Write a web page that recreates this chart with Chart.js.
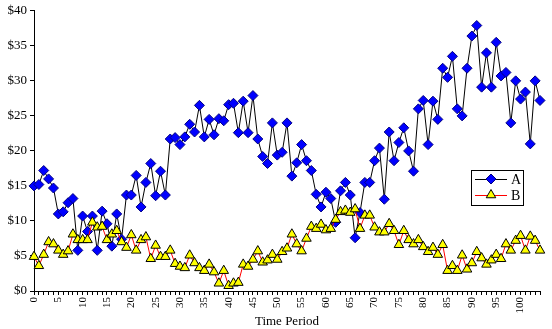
<!DOCTYPE html>
<html>
    <head>
        <title> Time Period </title>
        <script src = "https://cdn.jsdelivr.net/npm/chart.js"> </script>
        <style>
            body { margin: 0; background: #fff; }
        </style>
    </head>

    <body onload = "createChart()">

            <div>
                <canvas id="myChart" width="552" height="329"></canvas>
            </div>

            <script>
                // time periods 0..104
                const periods = Array.from({length: 105}, (_, i) => i);

                const seriesA = [
                    15.0, 15.2, 17.2, 16.0, 14.7, 11.0, 11.3, 12.6, 13.2, 5.8,
                    10.7, 8.5, 10.7, 5.8, 11.4, 9.6, 6.4, 11.0, 7.4, 13.7,
                    13.7, 16.5, 12.0, 15.5, 18.2, 13.6, 17.1, 13.7, 21.7, 21.9,
                    20.9, 22.0, 23.8, 22.7, 26.5, 22.0, 24.5, 22.3, 24.6, 24.3,
                    26.6, 26.8, 22.6, 27.1, 22.6, 27.9, 21.7, 19.2, 18.2, 24.0,
                    19.4, 19.8, 24.0, 16.4, 18.3, 20.9, 18.6, 17.2, 13.8, 12.0,
                    14.1, 13.2, 9.8, 14.3, 15.5, 13.7, 7.6, 11.2, 15.5, 15.5,
                    18.6, 20.4, 13.1, 22.7, 18.6, 21.2, 23.3, 20.0, 17.1, 26.0,
                    27.2, 20.9, 27.1, 24.5, 31.8, 30.5, 33.5, 26.0, 25.0, 31.8,
                    36.4, 37.9, 29.1, 34.0, 29.1, 35.5, 30.7, 31.2, 24.0, 30.0,
                    27.4, 28.4, 21.0, 30.0, 27.2
                ];

                const seriesB = [
                    4.9, 3.6, 5.2, 7.0, 6.7, 5.8, 5.2, 5.7, 8.1, 7.3,
                    7.3, 7.3, 9.8, 9.1, 9.2, 7.3, 8.1, 8.6, 7.0, 6.2,
                    8.0, 5.8, 7.3, 7.7, 4.6, 6.5, 4.9, 4.9, 5.8, 3.9,
                    3.5, 3.3, 5.1, 4.0, 3.3, 2.9, 3.8, 2.7, 1.1, 2.9,
                    0.75, 1.1, 1.2, 3.8, 3.5, 4.5, 5.7, 4.1, 4.4, 5.2,
                    4.5, 5.6, 6.1, 8.1, 6.7, 5.7, 7.5, 9.2, 8.9, 9.5,
                    8.7, 8.9, 10.2, 11.3, 11.5, 11.2, 11.7, 8.9, 10.8, 10.8,
                    9.1, 8.4, 8.4, 9.6, 8.6, 6.6, 8.6, 7.3, 6.7, 7.3,
                    6.3, 5.6, 6.2, 5.2, 6.6, 2.9, 3.6, 2.9, 5.1, 3.1,
                    4.0, 5.6, 4.7, 3.8, 4.4, 5.2, 4.6, 6.7, 5.8, 7.2,
                    7.9, 5.8, 7.8, 7.2, 5.8
                ];

                const seriesNames = ['A', 'B'];
                const yTicks = [0, 5, 10, 15, 20, 25, 30, 35, 40];

                const serif = 'Liberation Serif';

                // little boxed legend inside the plot, like the original
                const boxLegend = {
                    id: 'boxLegend',
                    afterDraw(chart) {
                        const ctx = chart.ctx;
                        const x0 = 471, y0 = 170, w = 52, h = 35;
                        ctx.save();
                        ctx.fillStyle = '#fff';
                        ctx.fillRect(x0, y0, w, h);
                        ctx.strokeStyle = '#000';
                        ctx.lineWidth = 1;
                        ctx.strokeRect(x0 + 0.5, y0 + 0.5, w, h);

                        chart.data.datasets.forEach((ds, k) => {
                            const y = y0 + 9 + k * 16;
                            ctx.strokeStyle = ds.borderColor;
                            ctx.lineWidth = 1;
                            ctx.beginPath();
                            ctx.moveTo(x0 + 4, y + 0.5);
                            ctx.lineTo(x0 + 36, y + 0.5);
                            ctx.stroke();

                            const cx = x0 + 20, r = ds.pointRadius;
                            ctx.beginPath();
                            if (ds.pointStyle === 'rectRot') {
                                ctx.moveTo(cx, y - r);
                                ctx.lineTo(cx + r, y);
                                ctx.lineTo(cx, y + r);
                                ctx.lineTo(cx - r, y);
                            } else {
                                ctx.moveTo(cx, y - r);
                                ctx.lineTo(cx + r * 0.866, y + r / 2);
                                ctx.lineTo(cx - r * 0.866, y + r / 2);
                            }
                            ctx.closePath();
                            ctx.fillStyle = ds.pointBackgroundColor;
                            ctx.fill();
                            ctx.strokeStyle = ds.pointBorderColor;
                            ctx.stroke();

                            ctx.fillStyle = '#000';
                            ctx.font = '14px "' + serif + '"';
                            ctx.textBaseline = 'middle';
                            ctx.fillText(ds.label, x0 + 40, y + 1);
                        });
                        ctx.restore();
                    }
                };

                function createChart() {
                    const ctx = document.getElementById('myChart');

                    new Chart(ctx, {
                        type: 'line',
                        data: {
                            labels: periods,
                            datasets: [{
                                label: seriesNames[0],
                                data: seriesA,
                                borderColor: '#000',
                                borderWidth: 1,
                                pointStyle: 'rectRot',
                                pointRadius: 5,
                                pointBackgroundColor: '#0000ff',
                                pointBorderColor: '#000080',
                                pointBorderWidth: 1,
                                tension: 0,
                                order: 1
                            }, {
                                label: seriesNames[1],
                                data: seriesB,
                                borderColor: '#ff0000',
                                borderWidth: 1,
                                pointStyle: 'triangle',
                                pointRadius: 5.5,
                                pointBackgroundColor: '#ffff00',
                                pointBorderColor: '#000',
                                pointBorderWidth: 1,
                                tension: 0,
                                order: 0
                            }]
                        },
                        plugins: [boxLegend],
                        options: {
                            responsive: false,
                            animation: false,
                            layout: {
                                padding: {top: 7, right: 12, left: 0, bottom: 0}
                            },
                            plugins: {
                                legend: {display: false},
                                tooltip: {enabled: false}
                            },
                            scales: {
                                x: {
                                    offset: false,
                                    afterFit(scale) {
                                        scale.height = 38;
                                        scale.paddingLeft = 0;
                                        scale.paddingRight = 0;
                                    },
                                    border: {color: '#000', width: 1},
                                    grid: {
                                        drawOnChartArea: false,
                                        tickLength: 4,
                                        color: '#000'
                                    },
                                    ticks: {
                                        autoSkip: false,
                                        maxRotation: 90,
                                        minRotation: 90,
                                        padding: 2,
                                        color: '#000',
                                        font: {family: serif, size: 11},
                                        callback: (v, i) => (i % 5 === 0 ? String(periods[i]) : '')
                                    },
                                    title: {
                                        display: true,
                                        text: 'Time Period',
                                        color: '#000',
                                        font: {family: serif, size: 13},
                                        padding: {top: 0, bottom: 0}
                                    }
                                },
                                y: {
                                    min: 0,
                                    max: 40,
                                    afterFit(scale) { scale.width = 34; },
                                    afterBuildTicks(scale) {
                                        scale.ticks = yTicks.map(v => ({value: v}));
                                    },
                                    border: {color: '#000', width: 1},
                                    grid: {
                                        drawOnChartArea: false,
                                        tickLength: 4,
                                        color: '#000'
                                    },
                                    ticks: {
                                        padding: 3,
                                        color: '#000',
                                        font: {family: serif, size: 13},
                                        callback: v => '$' + v
                                    }
                                }
                            }
                        }
                    });
                }
            </script>

    </body>
</html>
